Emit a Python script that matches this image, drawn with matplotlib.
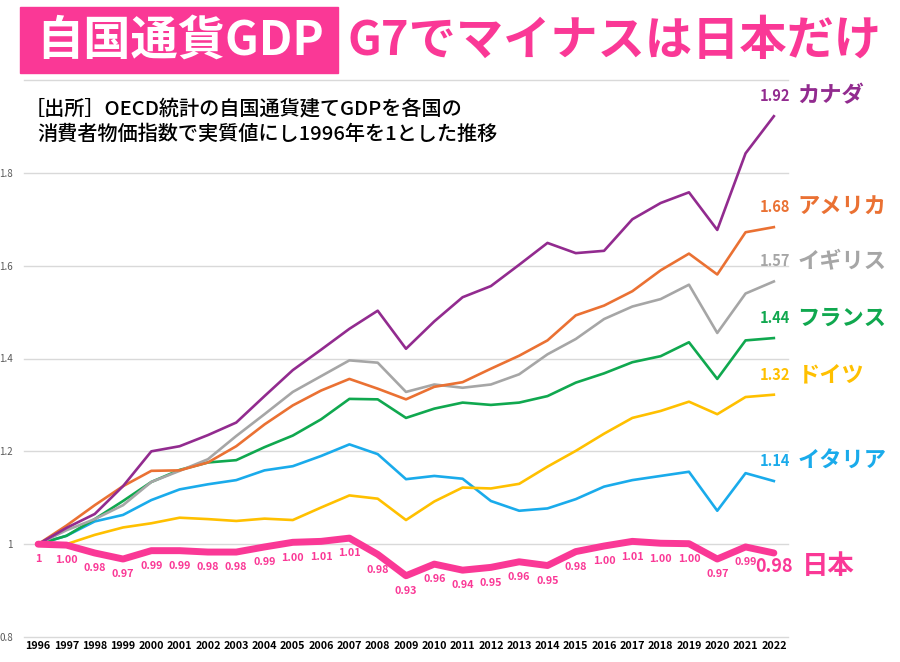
import numpy as np
import matplotlib
matplotlib.use("Agg")
import matplotlib.pyplot as plt
from matplotlib.patches import Rectangle

plt.rcParams['font.family'] = ['Noto Sans CJK JP', 'DejaVu Sans']

years = [str(y) for y in range(1996, 2023)]

canada = [1.000, 1.035, 1.065, 1.125, 1.200, 1.211, 1.235, 1.262, 1.319, 1.375, 1.419,
          1.464, 1.503, 1.421, 1.480, 1.532, 1.556, 1.602, 1.649, 1.627, 1.632, 1.700,
          1.735, 1.758, 1.677, 1.842, 1.922]
usa = [1.000, 1.040, 1.084, 1.125, 1.158, 1.159, 1.176, 1.211, 1.258, 1.299, 1.331,
       1.356, 1.335, 1.312, 1.339, 1.349, 1.378, 1.406, 1.439, 1.493, 1.514, 1.545,
       1.590, 1.626, 1.581, 1.672, 1.683]
uk = [1.000, 1.030, 1.054, 1.084, 1.134, 1.158, 1.183, 1.233, 1.280, 1.328, 1.362,
      1.396, 1.391, 1.328, 1.344, 1.337, 1.344, 1.366, 1.409, 1.442, 1.485, 1.512,
      1.528, 1.559, 1.455, 1.540, 1.566]
france = [1.000, 1.018, 1.054, 1.093, 1.134, 1.160, 1.176, 1.181, 1.209, 1.234, 1.269,
          1.313, 1.312, 1.272, 1.292, 1.305, 1.300, 1.305, 1.319, 1.348, 1.368, 1.392,
          1.405, 1.435, 1.356, 1.439, 1.444]
germany = [1.000, 1.000, 1.020, 1.036, 1.045, 1.057, 1.054, 1.050, 1.055, 1.052, 1.079,
           1.105, 1.098, 1.052, 1.092, 1.122, 1.120, 1.130, 1.167, 1.201, 1.238, 1.272,
           1.287, 1.307, 1.280, 1.317, 1.322]
italy = [1.000, 1.018, 1.049, 1.063, 1.095, 1.118, 1.129, 1.138, 1.159, 1.168, 1.190,
         1.215, 1.194, 1.140, 1.147, 1.141, 1.093, 1.072, 1.077, 1.097, 1.124, 1.138,
         1.147, 1.156, 1.072, 1.153, 1.136]
japan = [1.000, 0.998, 0.981, 0.968, 0.986, 0.986, 0.983, 0.983, 0.994, 1.004, 1.006,
         1.013, 0.978, 0.932, 0.957, 0.944, 0.950, 0.962, 0.954, 0.984, 0.996, 1.006,
         1.002, 1.001, 0.968, 0.994, 0.981]
japan_labels = ['1', '1.00', '0.98', '0.97', '0.99', '0.99', '0.98', '0.98', '0.99', '1.00',
                '1.01', '1.01', '0.98', '0.93', '0.96', '0.94', '0.95', '0.96', '0.95', '0.98',
                '1.00', '1.01', '1.00', '1.00', '0.97', '0.99']
yticks = [0.8, 1.0, 1.2, 1.4, 1.6, 1.8, 2.0]
ytick_labels = ['0.8', '1', '1.2', '1.4', '1.6', '1.8', '']

series = [
    ('イタリア', italy, '#1AABEB'),
    ('ドイツ', germany, '#FFC000'),
    ('フランス', france, '#10A84F'),
    ('イギリス', uk, '#A6A6A6'),
    ('アメリカ', usa, '#EA7133'),
    ('カナダ', canada, '#922B8F'),
]
pink = '#FA3896'

fig = plt.figure(figsize=(9, 6.62), dpi=100)
ax = fig.add_axes([24 / 900, 25 / 662, 764 / 900, 557 / 662])

# gridlines drawn by hand so the edge ones are not clipped
for yv in yticks:
    ax.axhline(yv, color='#D9D9D9', lw=1, clip_on=False, zorder=1)

x = np.arange(len(years))
for name, vals, col in series:
    ax.plot(x, vals, color=col, lw=1.9, zorder=3)
    ax.annotate(f'{vals[-1]:.2f}', xy=(x[-1], vals[-1]), xytext=(11.5, 14.5),
                textcoords='offset points', ha='right', va='center',
                fontsize=10.5, fontweight='bold', color=col)
    ax.annotate(name, xy=(x[-1], vals[-1]), xytext=(17, 14.5),
                textcoords='offset points', ha='left', va='center',
                fontsize=16, fontweight='bold', color=col)

ax.plot(x, japan, color=pink, lw=5, solid_capstyle='round', zorder=4)
for i, lab in enumerate(japan_labels):
    ax.annotate(lab, xy=(x[i], japan[i]), xytext=(0, -11), textcoords='offset points',
                ha='center', va='center', fontsize=7.8, fontweight='bold', color=pink)
ax.annotate(f'{japan[-1]:.2f}', xy=(x[-1], japan[-1]), xytext=(0, -9.5),
            textcoords='offset points', ha='center', va='center',
            fontsize=13, fontweight='bold', color=pink)
ax.annotate('日本', xy=(x[-1], japan[-1]), xytext=(20.5, -9.5),
            textcoords='offset points', ha='left', va='center',
            fontsize=19, fontweight='bold', color=pink)

ax.set_xlim(-0.5, len(years) - 0.5)
ax.set_ylim(0.8, 2.0)
ax.set_xticks(x)
ax.set_xticklabels(years, fontsize=7.8, fontweight='bold', color='black')
ax.set_yticks(yticks)
ax.set_yticklabels(ytick_labels, fontsize=7, color='#595959')
ax.tick_params(length=0)
ax.tick_params(axis='x', pad=3)
ax.tick_params(axis='y', pad=8)
for s in ax.spines.values():
    s.set_visible(False)

# title
fig.patches.append(Rectangle((20 / 900, 1 - 73 / 662), 318 / 900, 66 / 662,
                             transform=fig.transFigure, color=pink, zorder=0))
fig.text(180 / 900, 1 - 41 / 662, '自国通貨GDP', ha='center', va='center',
         fontsize=34, fontweight='bold', color='white')
fig.text(348 / 900, 1 - 41 / 662, 'G7でマイナスは日本だけ', ha='left', va='center',
         fontsize=34, fontweight='bold', color=pink)

fig.text(25 / 900, 1 - 108 / 662, '［出所］OECD統計の自国通貨建てGDPを各国の',
         ha='left', va='center', fontsize=14.5, fontweight='medium', color='black')
fig.text(37 / 900, 1 - 134 / 662, '消費者物価指数で実質値にし1996年を1とした推移',
         ha='left', va='center', fontsize=14.5, fontweight='medium', color='black')

fig.savefig('out.png', dpi=100)
